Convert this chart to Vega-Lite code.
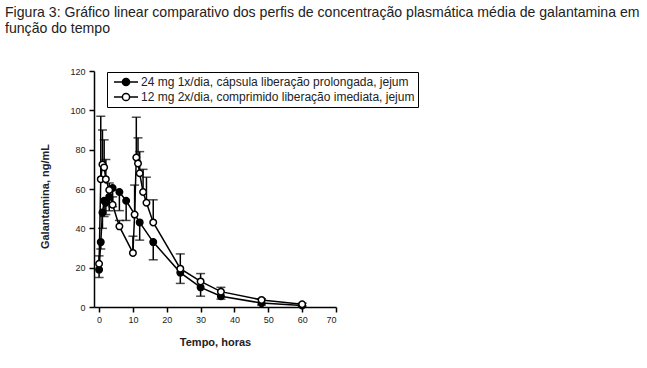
{
  "$schema": "https://vega.github.io/schema/vega-lite/v6.json",
  "autosize": "none",
  "width": 242,
  "height": 236,
  "padding": {"left": 94, "top": 71, "right": 311, "bottom": 61},
  "background": "white",
  "title": {
    "text": ["Figura 3: Gráfico linear comparativo dos perfis de concentração plasmática média de galantamina em", "função do tempo"],
    "anchor": "start",
    "frame": "group",
    "dx": -89,
    "offset": 30,
    "dy": -1,
    "font": "Liberation Sans",
    "fontSize": 14.1,
    "fontWeight": "normal",
    "color": "#222",
    "lineHeight": 16
  },
  "config": {
    "view": {"stroke": null},
    "axis": {
      "domainColor": "black", "domainWidth": 1.5, "tickColor": "black", "tickWidth": 1.5,
      "tickSize": 5, "grid": false, "labelFont": "Liberation Sans", "labelFontSize": 9,
      "labelColor": "#222", "titleFont": "Liberation Sans", "titleFontSize": 11,
      "titleFontWeight": "bold", "titleColor": "#222"
    }
  },
  "datasets": {
    "pk": [
      {"serie": "24 mg 1x/dia, cápsula liberação prolongada, jejum", "t": 0, "v": 19, "e": 15},
      {"serie": "24 mg 1x/dia, cápsula liberação prolongada, jejum", "t": 0.5, "v": 33, "e": 29.5},
      {"serie": "24 mg 1x/dia, cápsula liberação prolongada, jejum", "t": 1, "v": 48, "e": 40},
      {"serie": "24 mg 1x/dia, cápsula liberação prolongada, jejum", "t": 1.5, "v": 54, "e": 46},
      {"serie": "24 mg 1x/dia, cápsula liberação prolongada, jejum", "t": 2, "v": 53, "e": 47},
      {"serie": "24 mg 1x/dia, cápsula liberação prolongada, jejum", "t": 3, "v": 56, "e": 49},
      {"serie": "24 mg 1x/dia, cápsula liberação prolongada, jejum", "t": 4, "v": 60.5, "e": 51},
      {"serie": "24 mg 1x/dia, cápsula liberação prolongada, jejum", "t": 6, "v": 58.5, "e": 49},
      {"serie": "24 mg 1x/dia, cápsula liberação prolongada, jejum", "t": 8, "v": 54, "e": 44},
      {"serie": "24 mg 1x/dia, cápsula liberação prolongada, jejum", "t": 12, "v": 43, "e": 34},
      {"serie": "24 mg 1x/dia, cápsula liberação prolongada, jejum", "t": 16, "v": 33, "e": 24},
      {"serie": "24 mg 1x/dia, cápsula liberação prolongada, jejum", "t": 24, "v": 17.5, "e": 12},
      {"serie": "24 mg 1x/dia, cápsula liberação prolongada, jejum", "t": 30, "v": 10, "e": 5.5},
      {"serie": "24 mg 1x/dia, cápsula liberação prolongada, jejum", "t": 36, "v": 5.5, "e": 4},
      {"serie": "24 mg 1x/dia, cápsula liberação prolongada, jejum", "t": 48, "v": 2, "e": 1},
      {"serie": "24 mg 1x/dia, cápsula liberação prolongada, jejum", "t": 60, "v": 0.8, "e": 0.5},
      {"serie": "12 mg 2x/dia, comprimido liberação imediata, jejum", "t": 0, "v": 22, "e": 26},
      {"serie": "12 mg 2x/dia, comprimido liberação imediata, jejum", "t": 0.5, "v": 65, "e": 97},
      {"serie": "12 mg 2x/dia, comprimido liberação imediata, jejum", "t": 1, "v": 72.5, "e": 90},
      {"serie": "12 mg 2x/dia, comprimido liberação imediata, jejum", "t": 1.5, "v": 71, "e": 85},
      {"serie": "12 mg 2x/dia, comprimido liberação imediata, jejum", "t": 2, "v": 65, "e": 75},
      {"serie": "12 mg 2x/dia, comprimido liberação imediata, jejum", "t": 3, "v": 59.5, "e": 63},
      {"serie": "12 mg 2x/dia, comprimido liberação imediata, jejum", "t": 4, "v": 52, "e": 56},
      {"serie": "12 mg 2x/dia, comprimido liberação imediata, jejum", "t": 6, "v": 41, "e": 44},
      {"serie": "12 mg 2x/dia, comprimido liberação imediata, jejum", "t": 10, "v": 27.5, "e": 36},
      {"serie": "12 mg 2x/dia, comprimido liberação imediata, jejum", "t": 10.5, "v": 47, "e": 62},
      {"serie": "12 mg 2x/dia, comprimido liberação imediata, jejum", "t": 11, "v": 76, "e": 96.5},
      {"serie": "12 mg 2x/dia, comprimido liberação imediata, jejum", "t": 11.5, "v": 73, "e": 86},
      {"serie": "12 mg 2x/dia, comprimido liberação imediata, jejum", "t": 12, "v": 68, "e": 79},
      {"serie": "12 mg 2x/dia, comprimido liberação imediata, jejum", "t": 13, "v": 58.5, "e": 70},
      {"serie": "12 mg 2x/dia, comprimido liberação imediata, jejum", "t": 14, "v": 53, "e": 66},
      {"serie": "12 mg 2x/dia, comprimido liberação imediata, jejum", "t": 16, "v": 43, "e": 54.5},
      {"serie": "12 mg 2x/dia, comprimido liberação imediata, jejum", "t": 24, "v": 19.5, "e": 27},
      {"serie": "12 mg 2x/dia, comprimido liberação imediata, jejum", "t": 30, "v": 13, "e": 17},
      {"serie": "12 mg 2x/dia, comprimido liberação imediata, jejum", "t": 36, "v": 7.8, "e": 10},
      {"serie": "12 mg 2x/dia, comprimido liberação imediata, jejum", "t": 48, "v": 3.6, "e": 4.2},
      {"serie": "12 mg 2x/dia, comprimido liberação imediata, jejum", "t": 60, "v": 1.4, "e": 1.9}
    ]
  },
  "data": {"name": "pk"},
  "encoding": {
    "x": {
      "field": "t", "type": "quantitative",
      "scale": {"domain": [-1.5, 70], "nice": false, "zero": false},
      "axis": {"values": [0, 10, 20, 30, 40, 50, 60, 70], "title": "Tempo, horas", "titleX": 121, "titleY": 35, "titleBaseline": "middle", "labelPadding": 3}
    },
    "y": {
      "field": "v", "type": "quantitative",
      "scale": {"domain": [0, 120], "nice": false},
      "axis": {"values": [0, 20, 40, 60, 80, 100, 120], "title": "Galantamina, ng/mL", "titleX": -49, "titleY": 125, "titleAngle": -90, "titleBaseline": "middle", "titleAlign": "center", "labelPadding": 4}
    }
  },
  "layer": [
    {
      "mark": {"type": "rule", "color": "black", "strokeWidth": 1.5},
      "encoding": {"y2": {"field": "e"}}
    },
    {
      "mark": {"type": "tick", "orient": "horizontal", "color": "black", "size": 9, "thickness": 1.5},
      "encoding": {"y": {"field": "e", "type": "quantitative"}}
    },
    {
      "mark": {"type": "line", "color": "black", "strokeWidth": 1.5},
      "encoding": {"detail": {"field": "serie"}}
    },
    {
      "mark": {"type": "point", "filled": false, "shape": "circle", "size": 42, "stroke": "black", "strokeWidth": 1.5, "opacity": 1},
      "encoding": {
        "fill": {
          "field": "serie", "type": "nominal",
          "scale": {"domain": ["24 mg 1x/dia, cápsula liberação prolongada, jejum", "12 mg 2x/dia, comprimido liberação imediata, jejum"], "range": ["black", "white"]},
          "legend": {
            "title": null, "orient": "none", "legendX": 13, "legendY": 1,
            "strokeColor": "black", "padding": 3, "fillColor": "white",
            "labelFont": "Liberation Sans", "labelFontSize": 12, "labelColor": "#222", "labelLimit": 0,
            "symbolType": "M-2,0H-0.6M0.6,0H2M-0.6,0A0.6,0.6 0 1,0 0.6,0A0.6,0.6 0 1,0 -0.6,0Z",
            "symbolSize": 144, "symbolStrokeColor": "black", "symbolStrokeWidth": 1.5,
            "symbolOffset": 9, "symbolOpacity": 1, "rowPadding": 1, "labelOffset": 8
          }
        }
      }
    }
  ]
}
